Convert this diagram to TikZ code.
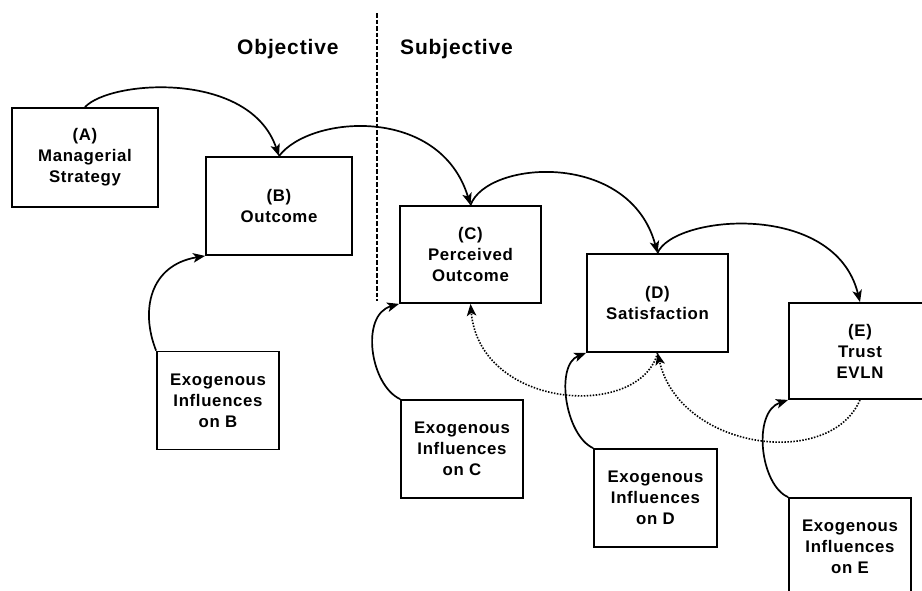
\documentclass[tikz,border=0pt]{standalone}
\usepackage{fontspec}
\setmainfont{Liberation Sans}
\newfontfamily\boxfam[LetterSpace=4]{Liberation Sans}
\usetikzlibrary{arrows.meta}
\tikzset{
  box/.style={draw, line width=1.8pt, inner sep=0pt, align=center,
    font=\boxfam\bfseries\fontsize{16.8}{21}\selectfont},
  bigbox/.style={box, minimum width=141pt, minimum height=97pt},
  exobox/.style={box, minimum width=122pt, minimum height=98pt},
  link/.style={line width=1.7pt, -{Stealth[length=12pt,width=9.5pt,inset=3pt]}},
  feedback/.style={line width=1.6pt, dash pattern=on 1.5pt off 1.5pt, -{Stealth[length=12pt,width=9.5pt,inset=3pt]}},
  divider/.style={line width=1.6pt, dash pattern=on 4.5pt off 2pt},
  heading/.style={anchor=base west, inner sep=0pt, font=\boxfam\bfseries\fontsize{21}{25}\selectfont}
}
\begin{document}
\begin{tikzpicture}[x=1pt, y=-1pt]
\useasboundingbox (0,0) rectangle (922,590);
\clip (0,0) rectangle (922,590);
% headings and divider
\node[heading] (obj) at (237,54) {Objective};
\node[heading] (subj) at (400,54) {Subjective};
\coordinate (dtop) at (377,13);
\coordinate (dbot) at (377,301);
\draw[divider] (dtop) -- (dbot);
% main boxes
\node[box, minimum width=146pt, minimum height=99pt] (A) at (85,157.5) {(A)\\Managerial\\Strategy};
\node[box, minimum width=146pt, minimum height=98pt] (B) at (279,206) {(B)\\Outcome};
\node[bigbox] (C) at (470.5,254.5) {(C)\\Perceived\\Outcome};
\node[bigbox, minimum height=98pt] (D) at (657.5,303) {(D)\\Satisfaction};
\node[bigbox, minimum width=142pt, minimum height=96pt] (E) at (860,351) {(E)\\Trust\\EVLN};
% exogenous boxes
\node[exobox] (xb) at (218,400.5) {Exogenous\\Influences\\on B};
\node[exobox] (xc) at (462,449) {Exogenous\\Influences\\on C};
\node[exobox, minimum width=123pt] (xd) at (655.5,498) {Exogenous\\Influences\\on D};
\node[exobox] (xe) at (850,547) {Exogenous\\Influences\\on E};
% forward chain
\draw[link] (A.north) .. controls (110,80) and (250,70) .. (B.north);
\draw[link] (B.north) .. controls (310,115) and (440,105) .. (C.north);
\draw[link] (C.north) .. controls (487,160) and (630,150) .. (D.north);
\draw[link] (D.north) .. controls (673,215) and (835,200) .. (E.north);
% exogenous influences
\draw[link] (xb.north west) .. controls (140,310) and (150,265) .. (B.south west);
\draw[link] (xc.north west) .. controls (370,385) and (360,315) .. (C.south west);
\draw[link] (xd.north west) .. controls (565,435) and (555,365) .. (D.south west);
\draw[link] (xe.north west) .. controls (760,485) and (752,412) .. (E.south west);
% feedback
\draw[feedback] (D.south) .. controls (640,420) and (480,410) .. (C.south);
\draw[feedback] (E.south) .. controls (830,470) and (680,450) .. (D.south);
\end{tikzpicture}
\end{document}
